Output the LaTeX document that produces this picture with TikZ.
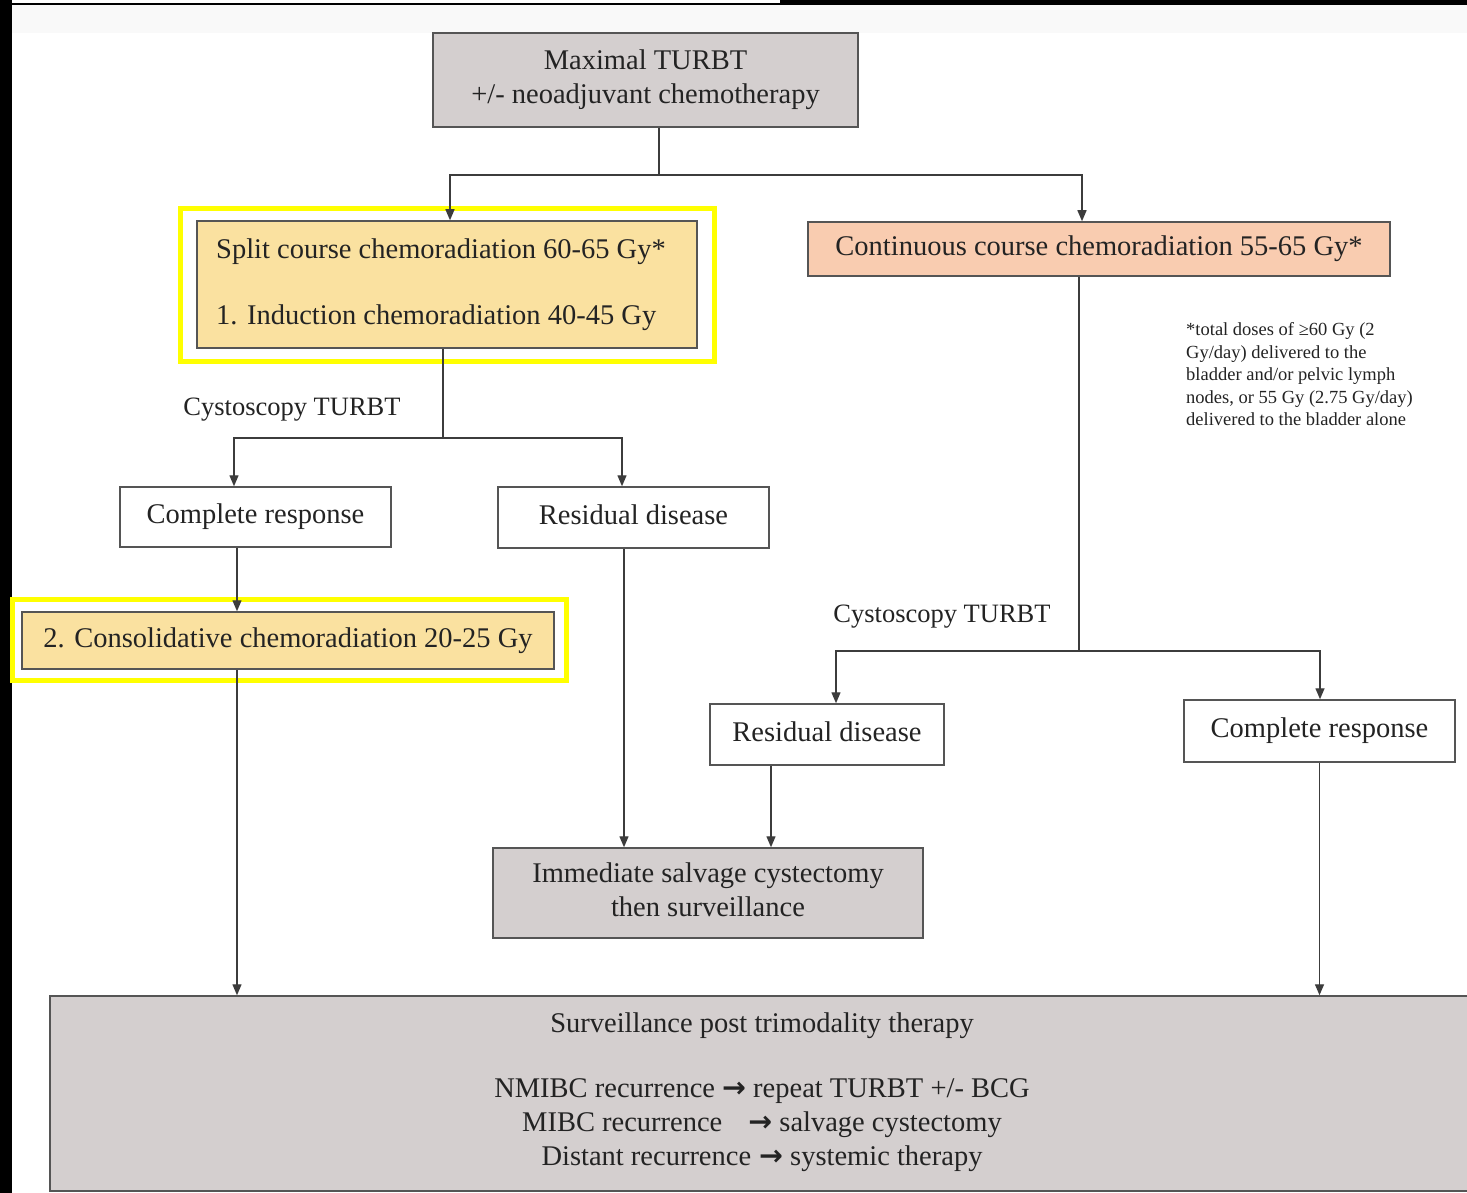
\documentclass[tikz,border=0pt]{standalone}
\usepackage{fontspec}
\setmainfont{Liberation Serif}
\newfontfamily\tnr{Liberation Serif}
\newfontfamily\arrowfont{DejaVu Sans}
\usetikzlibrary{arrows.meta}
\definecolor{boxgray}{RGB}{212,207,207}
\definecolor{boxyellow}{RGB}{250,225,160}
\definecolor{boxorange}{RGB}{249,204,176}
\definecolor{edgegray}{RGB}{85,85,85}
\definecolor{linegray}{RGB}{60,60,60}
\definecolor{txt}{RGB}{35,35,35}
\definecolor{hilite}{RGB}{255,255,0}
\definecolor{bandgray}{RGB}{249,249,249}
\newcommand{\ar}{{\arrowfont\bfseries →}}
\newcommand{\tx}[2][c]{\scalebox{2}{\tnr\fontsize{14.25}{17}\selectfont\begin{tabular}{@{}#1@{}}#2\end{tabular}}}
\newcommand{\tl}[1]{\scalebox{2}{\tnr\fontsize{13.25}{16}\selectfont #1}}
\newcommand{\tn}[1]{\scalebox{2}{\tnr\fontsize{9.25}{11.25}\selectfont\begin{tabular}{@{}l@{}}#1\end{tabular}}}
\begin{document}
\begin{tikzpicture}[x=1pt,y=-1pt,
  box/.style={draw=edgegray, line width=1.5pt, inner sep=0pt, align=center, text=txt},
  lbl/.style={inner sep=0pt, text=txt},
  conn/.style={draw=linegray, line width=1.4pt},
  arr/.style={conn, -{Triangle[length=11pt,width=9pt]}},
  hl/.style={draw=hilite, line width=5pt}
]
\useasboundingbox (0,0) rectangle (1467,1193);
\fill[white] (0,0) rectangle (1467,1193);
\fill[bandgray] (12,5) rectangle (1467,33);
\fill[black] (0,0) rectangle (12,1193);
\fill[black] (780,0) rectangle (1467,5);
\fill[black] (0,3) rectangle (780,5);

% nodes
\node[box, fill=boxgray, minimum width=425pt, minimum height=94pt] (top) at (645.5,80)
  {\tx{Maximal TURBT\\+/- neoadjuvant chemotherapy}};
\node[box, fill=boxyellow, minimum width=500pt, minimum height=127pt] (split) at (447,284.5) {};
\node[lbl, anchor=west] (splitt) at (216,284.5)
  {\tx[l]{Split course chemoradiation 60-65 Gy*\\[16pt]1. Induction chemoradiation 40-45 Gy}};
\node[box, fill=boxorange, minimum width=582pt, minimum height=54pt] (cont) at (1099,249)
  {\tx{Continuous course chemoradiation 55-65 Gy*}};
\node[box, fill=white, minimum width=271pt, minimum height=60pt] (crl) at (255.5,517) {\tx{Complete response}};
\node[box, fill=white, minimum width=271pt, minimum height=61pt] (rdl) at (633.5,517.5) {\tx{Residual disease}};
\node[box, fill=boxyellow, minimum width=532pt, minimum height=57pt] (consol) at (288,640.5)
  {\tx{2. Consolidative chemoradiation 20-25 Gy}};
\node[box, fill=white, minimum width=234pt, minimum height=61pt] (rdr) at (827,734.5) {\tx{Residual disease}};
\node[box, fill=white, minimum width=271pt, minimum height=62pt] (crr) at (1319.5,731) {\tx{Complete response}};
\node[box, fill=boxgray, minimum width=430pt, minimum height=90pt] (imm) at (708,893)
  {\tx{Immediate salvage cystectomy\\then surveillance}};
\node[box, fill=boxgray, minimum width=1422pt, minimum height=195pt] (surv) at (761,1093.5) {};
\node[lbl] (survt) at (762,1026) {\tx{Surveillance post trimodality therapy}};
\node[lbl] (survl) at (762,1125)
  {\tx{NMIBC recurrence \ar{} repeat TURBT +/- BCG\\
   MIBC recurrence\hspace{13pt}\ar{} salvage cystectomy\\
   Distant recurrence\hspace{4pt}\ar{} systemic therapy}};

% highlight frames
\draw[hl] (split.north west) ++(-16,-12) rectangle ([xshift=17pt,yshift=-13pt]split.south east);
\draw[hl] (consol.north west) ++(-9,-12) rectangle ([xshift=12pt,yshift=-11pt]consol.south east);

% labels
\node[lbl] (cys1) at (292,410) {\tl{Cystoscopy TURBT}};
\node[lbl] (cys2) at (942,617) {\tl{Cystoscopy TURBT}};
\node[lbl, anchor=north west] (fn) at (1186,320)
  {\tn{*total doses of ≥60 Gy (2\\Gy/day) delivered to the\\bladder and/or pelvic lymph\\nodes, or 55 Gy (2.75 Gy/day)\\delivered to the bladder alone}};

% connectors
\coordinate (j1) at (659,175);
\draw[conn] ([xshift=13.5pt]top.south) -- (j1);
\draw[arr] (j1) -| ([xshift=3pt]split.north);
\draw[arr] (j1) -| ([xshift=-17pt]cont.north);

\coordinate (j2) at (443,438);
\draw[conn] ([xshift=-4pt]split.south) -- (j2);
\draw[arr] (j2) -| ([xshift=-21.5pt]crl.north);
\draw[arr] (j2) -| ([xshift=-11.5pt]rdl.north);

\draw[arr] ([xshift=-18.5pt]crl.south) -- ([xshift=-51pt]consol.north);
\path ([xshift=-51pt]consol.south) coordinate (c1);
\draw[arr] (c1) -- (c1 |- surv.north);

\path ([xshift=-9.5pt]rdl.south) coordinate (c2);
\draw[arr] (c2) -- (c2 |- imm.north);
\path ([xshift=-56pt]rdr.south) coordinate (c3);
\draw[arr] (c3) -- (c3 |- imm.north);

\coordinate (j3) at (1079,651);
\draw[conn] ([xshift=-20pt]cont.south) -- (j3);
\draw[arr] (j3) -| ([xshift=9pt]rdr.north);
\draw[arr] (j3) -| ([xshift=0.5pt]crr.north);

\path (crr.south) coordinate (c4);
\draw[arr] (c4) -- (c4 |- surv.north);
\end{tikzpicture}
\end{document}
